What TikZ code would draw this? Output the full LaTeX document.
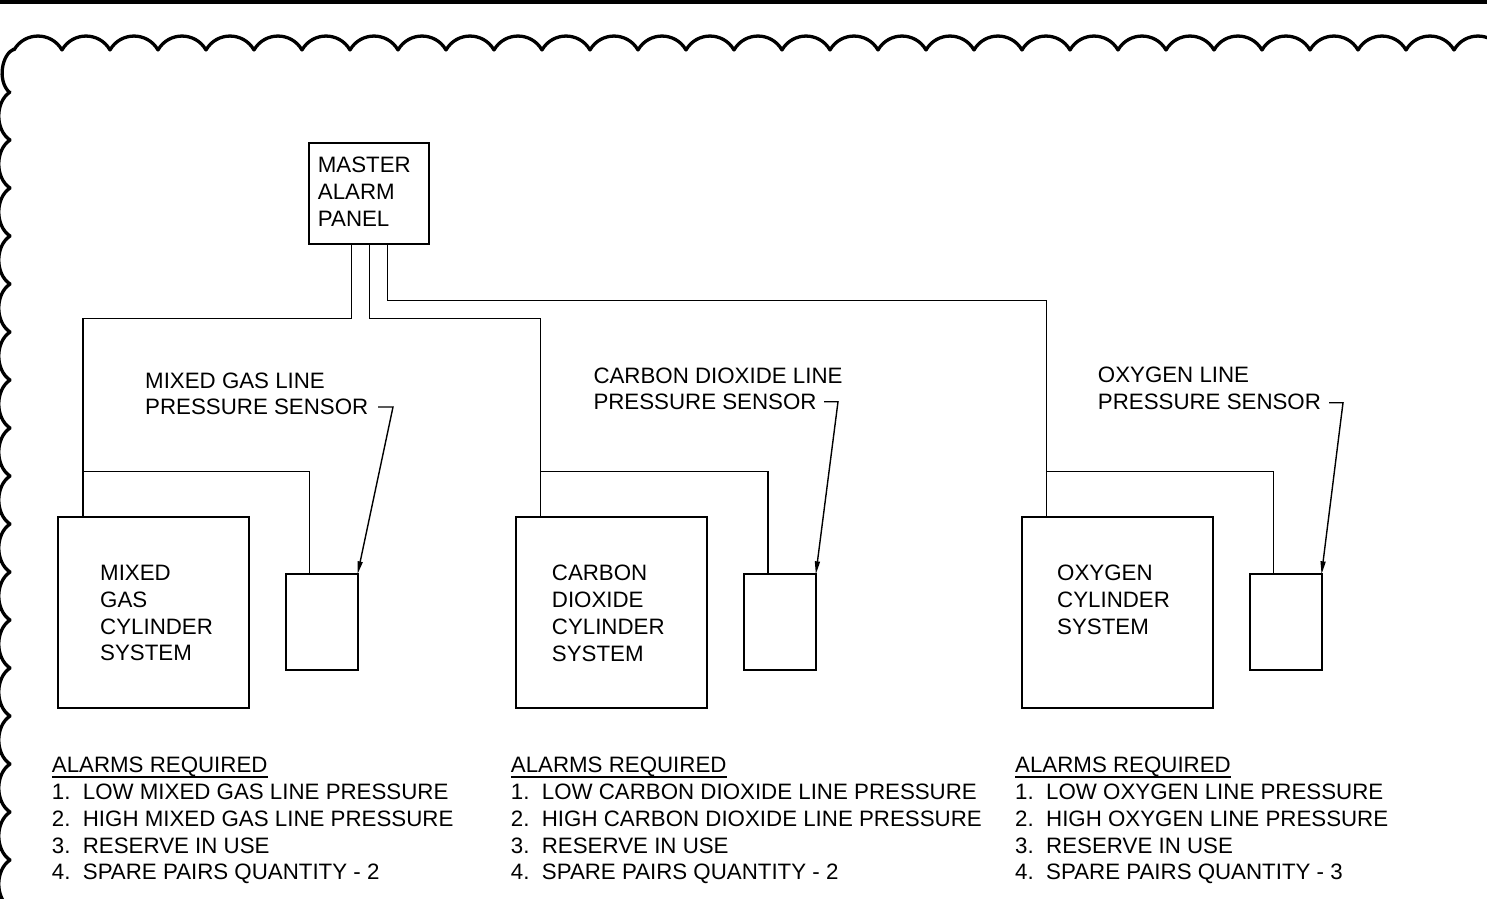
\documentclass[tikz,border=0pt]{standalone}
\usepackage{fontspec}
\setmainfont{Liberation Sans}
\usetikzlibrary{arrows.meta}
\newcommand{\ulhead}[1]{\setbox0\hbox{#1}\rlap{\rule[-4.8pt]{\wd0}{1.6pt}}\box0}

\begin{document}
\begin{tikzpicture}[x=1pt,y=-1pt,
  txt/.style={inner sep=0pt,anchor=north west,align=left,font=\fontsize{22.3}{26.8}\selectfont},
  bigbox/.style={draw,line width=2pt,outer sep=0pt,inner sep=0pt,anchor=north west,minimum width=191pt,minimum height=191pt},
  sensbox/.style={bigbox,minimum width=71.5pt,minimum height=95.7pt},
  wire/.style={line width=1.4pt},
  lead/.style={line width=1.4pt,-{Triangle[length=13pt,width=5pt]}},
  cloud/.style={line width=3.3pt,line cap=round}]
  \useasboundingbox (0,0) rectangle (1487,898);
  \fill (0,0) rectangle (1487,3.8);
  \draw[cloud] (14,49) .. controls (2,54) and (-3,80) .. (9,92);
  \foreach \k in {0,...,30} \draw[cloud] (14+48*\k,50) .. controls +(10.6,-18.6) and +(-10.6,-18.6) .. (62+48*\k,50);
  \foreach \k in {0,...,16} \draw[cloud] (10,92+48*\k) .. controls +(-15,10) and +(-15,-10) .. (10,140+48*\k);

  \node[bigbox,minimum width=120pt,minimum height=101.6pt] (master) at (309.3,142.7) {};
  \node[txt] (mastertxt) at ([xshift=8.4pt,yshift=-14pt]master.north west) {MASTER\\ALARM\\PANEL};

  \node[bigbox] (mixed) at (58.3,516.7) {};
  \node[txt] (mixedtxt) at ([xshift=41.7pt,yshift=-48.3pt]mixed.north west) {MIXED\\GAS\\CYLINDER\\SYSTEM};
  \node[sensbox] (mixsens) at (286,574.3) {};
  \node[txt] (mixlbl) at (145,372.3) {MIXED GAS LINE\\PRESSURE SENSOR};
  \node[txt] (mixlist) at (51.7,757) {\ulhead{ALARMS REQUIRED}\\1.\ \ LOW MIXED GAS LINE PRESSURE\\2.\ \ HIGH MIXED GAS LINE PRESSURE\\3.\ \ RESERVE IN USE\\4.\ \ SPARE PAIRS QUANTITY - 2};

  \node[bigbox] (co2) at (516,516.7) {};
  \node[txt] (co2txt) at ([xshift=35.7pt,yshift=-48.3pt]co2.north west) {CARBON\\DIOXIDE\\CYLINDER\\SYSTEM};
  \node[sensbox] (co2sens) at (744.3,574.3) {};
  \node[txt] (co2lbl) at (593.3,367.3) {CARBON DIOXIDE LINE\\PRESSURE SENSOR};
  \node[txt] (co2list) at (510.7,757) {\ulhead{ALARMS REQUIRED}\\1.\ \ LOW CARBON DIOXIDE LINE PRESSURE\\2.\ \ HIGH CARBON DIOXIDE LINE PRESSURE\\3.\ \ RESERVE IN USE\\4.\ \ SPARE PAIRS QUANTITY - 2};

  \node[bigbox] (oxy) at (1021.7,516.7) {};
  \node[txt] (oxytxt) at ([xshift=35.3pt,yshift=-48.3pt]oxy.north west) {OXYGEN\\CYLINDER\\SYSTEM};
  \node[sensbox] (oxysens) at (1250,574.3) {};
  \node[txt] (oxylbl) at (1097.7,367) {OXYGEN LINE\\PRESSURE SENSOR};
  \node[txt] (oxylist) at (1015,757) {\ulhead{ALARMS REQUIRED}\\1.\ \ LOW OXYGEN LINE PRESSURE\\2.\ \ HIGH OXYGEN LINE PRESSURE\\3.\ \ RESERVE IN USE\\4.\ \ SPARE PAIRS QUANTITY - 3};

  \draw[wire] ([xshift=-17.6pt]master.south) -- ++(0,74) -| ([xshift=-71pt]mixed.north);
  \draw[wire] (master.south) -- ++(0,74) -| ([xshift=-71pt]co2.north);
  \draw[wire] ([xshift=18pt]master.south) -- ++(0,56.4) -| ([xshift=-71pt]oxy.north);
  \draw[wire] ([xshift=-71pt,yshift=45pt]mixed.north) -| ([xshift=-12pt]mixsens.north);
  \draw[wire] ([xshift=-71pt,yshift=45pt]co2.north) -| ([xshift=-12pt]co2sens.north);
  \draw[wire] ([xshift=-71pt,yshift=45pt]oxy.north) -| ([xshift=-12pt]oxysens.north);

  \coordinate (mixtick) at (378,407); \coordinate (mixbend) at (393,407);
  \coordinate (co2tick) at (824,401.7); \coordinate (co2bend) at (838,401.7);
  \coordinate (oxytick) at (1329,402.7); \coordinate (oxybend) at (1343,402.7);
  \draw[lead] (mixtick) -- (mixbend) -- (mixsens.north east);
  \draw[lead] (co2tick) -- (co2bend) -- (co2sens.north east);
  \draw[lead] (oxytick) -- (oxybend) -- (oxysens.north east);
\end{tikzpicture}
\end{document}
